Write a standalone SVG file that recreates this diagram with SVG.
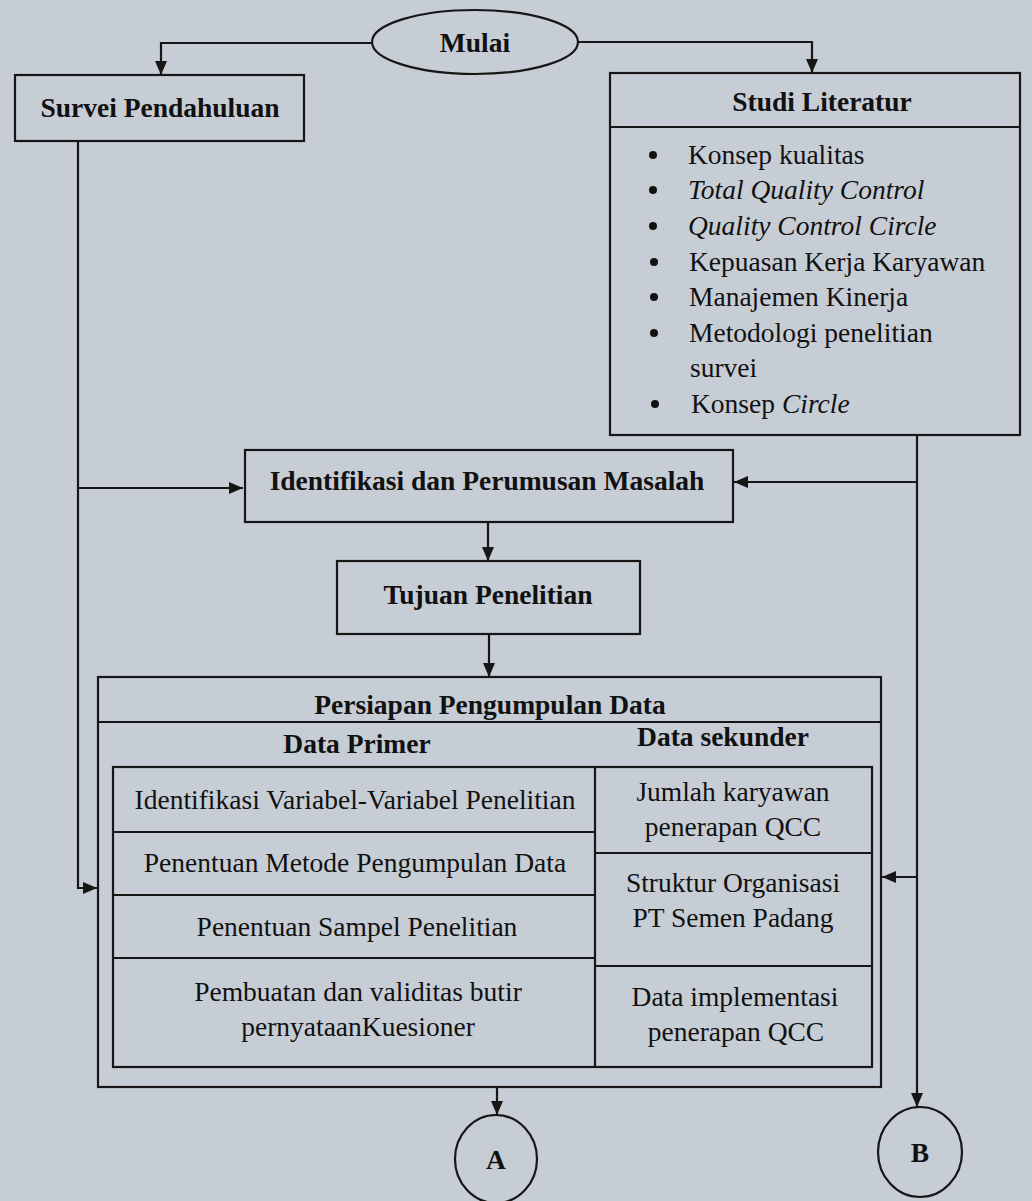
<svg xmlns="http://www.w3.org/2000/svg" width="1032" height="1201" viewBox="0 0 1032 1201">
<defs>
<style>
.box{fill:none;stroke:#161616;stroke-width:2.2}
.ln{fill:none;stroke:#161616;stroke-width:2.2}
.c{fill:none;stroke:#161616;stroke-width:2.2}
.t{font-family:"Liberation Serif","Times New Roman",serif;fill:#111;font-size:27.5px}
.b{font-weight:bold;font-size:27.5px}
.i{font-style:italic}
.m{text-anchor:middle}
</style>
<marker id="ah" markerUnits="userSpaceOnUse" markerWidth="14" markerHeight="12" refX="14" refY="6" orient="auto">
<path d="M0,0 L14,6 L0,12 z" fill="#161616"/>
</marker>
</defs>
<rect width="1032" height="1201" fill="#c7cdd5"/>

<g id="connectors">
<path class="c" d="M372,43 H161 V75" marker-end="url(#ah)"/>
<path class="c" d="M578,42 H812 V73" marker-end="url(#ah)"/>
<path class="c" d="M78,141 V888 H97" marker-end="url(#ah)"/>
<path class="c" d="M78,488 H243" marker-end="url(#ah)"/>
<path class="c" d="M917,435 V1107" marker-end="url(#ah)"/>
<path class="c" d="M917,482 H734" marker-end="url(#ah)"/>
<path class="c" d="M917,877 H882" marker-end="url(#ah)"/>
<path class="c" d="M488,522 V561" marker-end="url(#ah)"/>
<path class="c" d="M489,634 V677" marker-end="url(#ah)"/>
<path class="c" d="M497,1088 V1115" marker-end="url(#ah)"/>
</g>

<g id="mulai">
<ellipse class="box" cx="475" cy="42" rx="103" ry="32"/>
<text class="t b m" x="475" y="52">Mulai</text>
</g>

<g id="survei">
<rect class="box" x="15" y="75" width="289" height="66"/>
<text class="t b m" x="160" y="117">Survei Pendahuluan</text>
</g>

<g id="studi">
<rect class="box" x="610" y="73" width="410" height="362"/>
<line class="ln" x1="610" y1="127" x2="1020" y2="127"/>
<text class="t b m" x="822" y="111">Studi Literatur</text>
<g class="t">
<circle cx="653" cy="155" r="4" fill="#111"/>
<text x="688" y="164">Konsep kualitas</text>
<circle cx="653" cy="190" r="4" fill="#111"/>
<text x="688" y="199" class="i">Total Quality Control</text>
<circle cx="653" cy="226" r="4" fill="#111"/>
<text x="688" y="235" class="i">Quality Control Circle</text>
<circle cx="654" cy="262" r="4" fill="#111"/>
<text x="689" y="271">Kepuasan Kerja Karyawan</text>
<circle cx="654" cy="297" r="4" fill="#111"/>
<text x="689" y="306">Manajemen Kinerja</text>
<circle cx="654" cy="333" r="4" fill="#111"/>
<text x="689" y="342">Metodologi penelitian</text>
<text x="690" y="377">survei</text>
<circle cx="655" cy="404" r="4" fill="#111"/>
<text x="691" y="413">Konsep <tspan class="i">Circle</tspan></text>
</g>
</g>

<g id="identifikasi">
<rect class="box" x="245" y="450" width="488" height="72"/>
<text class="t b m" x="487" y="490">Identifikasi dan Perumusan Masalah</text>
</g>

<g id="tujuan">
<rect class="box" x="337" y="561" width="303" height="73"/>
<text class="t b m" x="488" y="604">Tujuan Penelitian</text>
</g>

<g id="persiapan">
<rect class="box" x="98" y="677" width="783" height="410"/>
<line class="ln" x1="98" y1="722" x2="881" y2="722"/>
<text class="t b m" x="490" y="714">Persiapan Pengumpulan Data</text>
<text class="t b m" x="357" y="753">Data Primer</text>
<text class="t b m" x="723" y="746">Data sekunder</text>
<rect class="box" x="113" y="767" width="759" height="300"/>
<line class="ln" x1="595" y1="767" x2="595" y2="1067"/>
<line class="ln" x1="113" y1="832" x2="595" y2="832"/>
<line class="ln" x1="113" y1="895" x2="595" y2="895"/>
<line class="ln" x1="113" y1="958" x2="595" y2="958"/>
<line class="ln" x1="595" y1="853" x2="872" y2="853"/>
<line class="ln" x1="595" y1="966" x2="872" y2="966"/>
<g class="t m">
<text x="355" y="809">Identifikasi Variabel-Variabel Penelitian</text>
<text x="355" y="872">Penentuan Metode Pengumpulan Data</text>
<text x="357" y="936">Penentuan Sampel Penelitian</text>
<text x="358" y="1001">Pembuatan dan validitas butir</text>
<text x="358" y="1036">pernyataanKuesioner</text>
<text x="733" y="801">Jumlah karyawan</text>
<text x="733" y="836">penerapan QCC</text>
<text x="733" y="892">Struktur Organisasi</text>
<text x="733" y="927">PT Semen Padang</text>
<text x="735" y="1006">Data implementasi</text>
<text x="736" y="1041">penerapan QCC</text>
</g>
</g>

<g id="A">
<ellipse class="box" cx="496" cy="1159" rx="41" ry="44"/>
<text class="t b m" x="496" y="1169">A</text>
</g>

<g id="B">
<ellipse class="box" cx="920" cy="1152" rx="42" ry="45"/>
<text class="t b m" x="920" y="1162">B</text>
</g>
</svg>
